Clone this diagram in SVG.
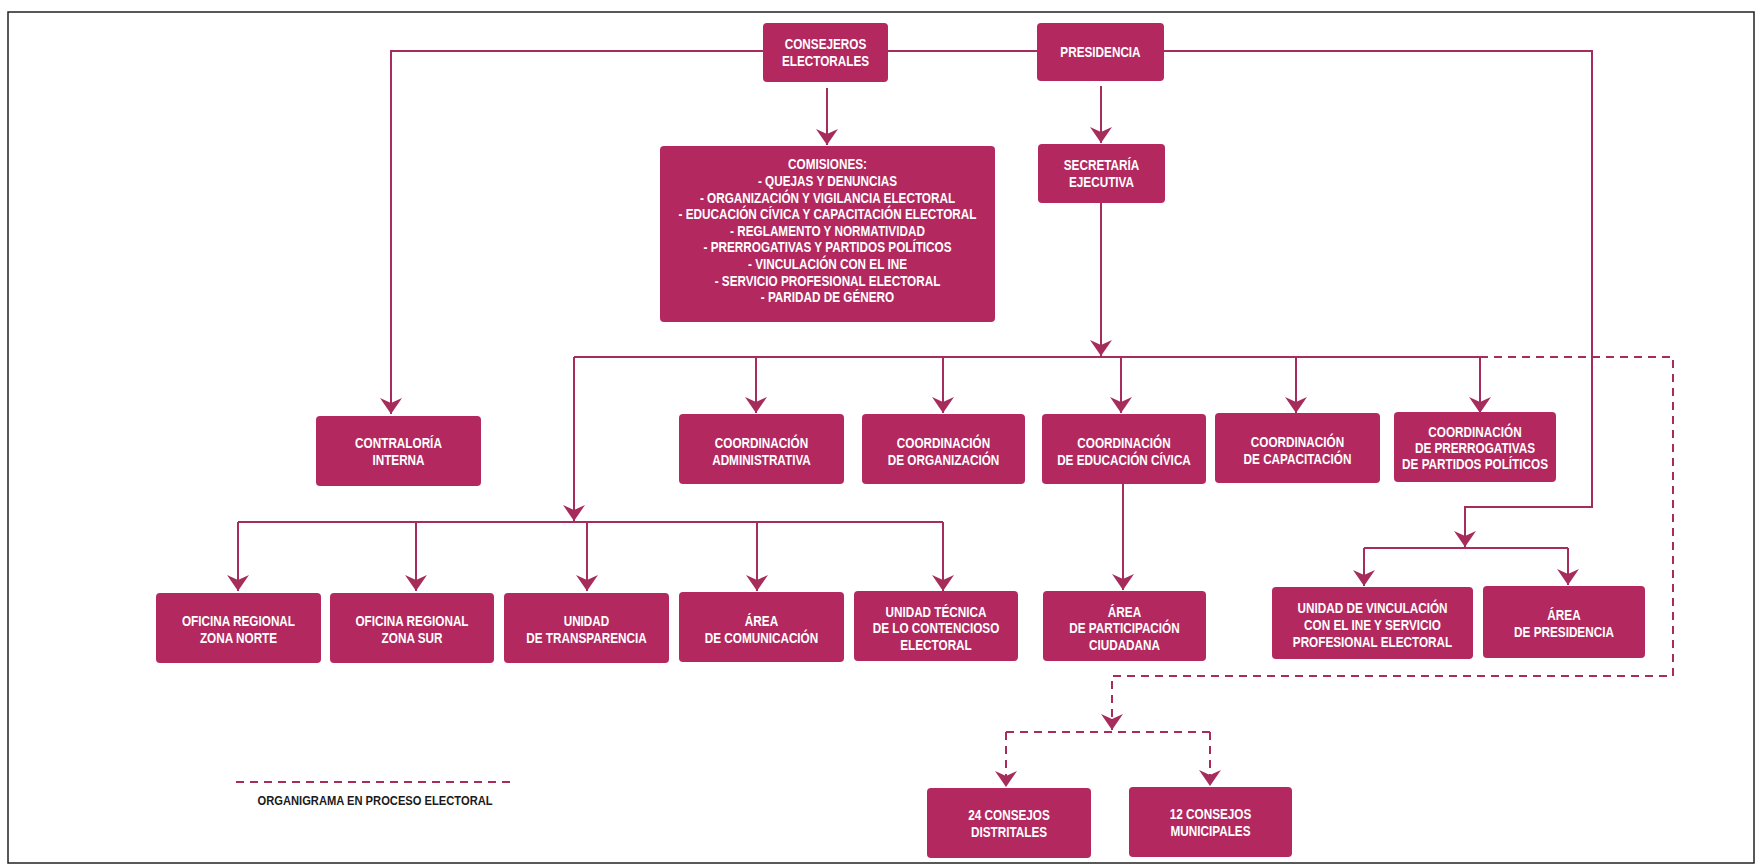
<svg xmlns="http://www.w3.org/2000/svg" width="1760" height="866" viewBox="0 0 1760 866">
<defs>
<style>
.box{fill:#b3285f;}
.t{font-family:'Liberation Sans',Arial,sans-serif;font-weight:bold;font-size:14px;fill:#ffffff;text-anchor:middle;transform-box:fill-box;transform-origin:center;transform:scaleX(0.84);}
.ln{fill:none;stroke:#a62c5c;stroke-width:2;}
.dash{stroke-dasharray:8 6;}
.leg{font-family:'Liberation Sans',Arial,sans-serif;font-weight:bold;font-size:13px;fill:#1a1a1a;text-anchor:middle;transform-box:fill-box;transform-origin:center;transform:scaleX(0.86);}
</style>
<marker id="ah" markerUnits="userSpaceOnUse" markerWidth="22" markerHeight="26" viewBox="-18 -13 19 26" refX="0" refY="0" orient="auto" overflow="visible">
<path d="M0,0 L-16,-11 L-11,0 L-16,11 Z" fill="#a62c5c"/>
</marker>
</defs>
<rect x="0" y="0" width="1760" height="866" fill="#ffffff"/>
<rect x="8" y="12" width="1746" height="851" fill="none" stroke="#222" stroke-width="1.5"/>

<g id="connectors">
<path class="ln" d="M763,51 H391 V414" marker-end="url(#ah)"/>
<path class="ln" d="M888,51 H1037"/>
<path class="ln" d="M1164,51 H1592 V507 H1465 V547" marker-end="url(#ah)"/>
<path class="ln" d="M827,88 V145" marker-end="url(#ah)"/>
<path class="ln" d="M1101,86 V143" marker-end="url(#ah)"/>
<path class="ln" d="M1101,203 V356" marker-end="url(#ah)"/>
<path class="ln" d="M574,357 H1480"/>
<path class="ln" d="M756,357 V413" marker-end="url(#ah)"/>
<path class="ln" d="M943,357 V413" marker-end="url(#ah)"/>
<path class="ln" d="M1121,357 V413" marker-end="url(#ah)"/>
<path class="ln" d="M1296,357 V413" marker-end="url(#ah)"/>
<path class="ln" d="M1480,357 V413" marker-end="url(#ah)"/>
<path class="ln" d="M574,357 V521" marker-end="url(#ah)"/>
<path class="ln" d="M238,522 H943"/>
<path class="ln" d="M238,522 V591" marker-end="url(#ah)"/>
<path class="ln" d="M416,522 V591" marker-end="url(#ah)"/>
<path class="ln" d="M587,522 V591" marker-end="url(#ah)"/>
<path class="ln" d="M757,522 V591" marker-end="url(#ah)"/>
<path class="ln" d="M943,522 V591" marker-end="url(#ah)"/>
<path class="ln" d="M1123,484 V590" marker-end="url(#ah)"/>
<path class="ln" d="M1364,548 H1568"/>
<path class="ln" d="M1364,548 V586" marker-end="url(#ah)"/>
<path class="ln" d="M1568,548 V585" marker-end="url(#ah)"/>
<path class="ln dash" d="M1480,357 H1673 V676 H1112 V730" marker-end="url(#ah)"/>
<path class="ln dash" d="M1006,732 H1210"/>
<path class="ln dash" d="M1006,732 V787" marker-end="url(#ah)"/>
<path class="ln dash" d="M1210,732 V786" marker-end="url(#ah)"/>
</g>

<g id="consejeros"><rect class="box" x="763" y="23" width="125" height="59" rx="4"/>
<text class="t" x="825.5" y="49">CONSEJEROS</text><text class="t" x="825.5" y="66">ELECTORALES</text></g>
<g id="presidencia"><rect class="box" x="1037" y="23" width="127" height="58" rx="4"/>
<text class="t" x="1100.5" y="57">PRESIDENCIA</text></g>
<g id="comisiones"><rect class="box" x="660" y="146" width="335" height="176" rx="4"/>
<text class="t" x="827.5" y="169">COMISIONES:</text>
<text class="t" x="827.5" y="186">- QUEJAS Y DENUNCIAS</text>
<text class="t" x="827.5" y="203">- ORGANIZACIÓN Y VIGILANCIA ELECTORAL</text>
<text class="t" x="827.5" y="219">- EDUCACIÓN CÍVICA Y CAPACITACIÓN ELECTORAL</text>
<text class="t" x="827.5" y="236">- REGLAMENTO Y NORMATIVIDAD</text>
<text class="t" x="827.5" y="252">- PRERROGATIVAS Y PARTIDOS POLÍTICOS</text>
<text class="t" x="827.5" y="269">- VINCULACIÓN CON EL INE</text>
<text class="t" x="827.5" y="286">- SERVICIO PROFESIONAL ELECTORAL</text>
<text class="t" x="827.5" y="302">- PARIDAD DE GÉNERO</text></g>
<g id="secretaria"><rect class="box" x="1038" y="144" width="127" height="59" rx="4"/>
<text class="t" x="1101.5" y="170">SECRETARÍA</text><text class="t" x="1101.5" y="187">EJECUTIVA</text></g>

<g id="contraloria"><rect class="box" x="316" y="416" width="165" height="70" rx="4"/>
<text class="t" x="398.5" y="448">CONTRALORÍA</text><text class="t" x="398.5" y="465">INTERNA</text></g>
<g id="coord-admin"><rect class="box" x="679" y="414" width="165" height="70" rx="4"/>
<text class="t" x="761.5" y="448">COORDINACIÓN</text><text class="t" x="761.5" y="465">ADMINISTRATIVA</text></g>
<g id="coord-org"><rect class="box" x="862" y="414" width="163" height="70" rx="4"/>
<text class="t" x="943.5" y="448">COORDINACIÓN</text><text class="t" x="943.5" y="465">DE ORGANIZACIÓN</text></g>
<g id="coord-educ"><rect class="box" x="1042" y="414" width="164" height="70" rx="4"/>
<text class="t" x="1124" y="448">COORDINACIÓN</text><text class="t" x="1124" y="465">DE EDUCACIÓN CÍVICA</text></g>
<g id="coord-cap"><rect class="box" x="1215" y="413" width="165" height="70" rx="4"/>
<text class="t" x="1297.5" y="447">COORDINACIÓN</text><text class="t" x="1297.5" y="464">DE CAPACITACIÓN</text></g>
<g id="coord-prerrog"><rect class="box" x="1394" y="412" width="162" height="70" rx="4"/>
<text class="t" x="1475" y="437">COORDINACIÓN</text><text class="t" x="1475" y="453">DE PRERROGATIVAS</text><text class="t" x="1475" y="469">DE PARTIDOS POLÍTICOS</text></g>

<g id="of-norte"><rect class="box" x="156" y="593" width="165" height="70" rx="4"/>
<text class="t" x="238.5" y="626">OFICINA REGIONAL</text><text class="t" x="238.5" y="643">ZONA NORTE</text></g>
<g id="of-sur"><rect class="box" x="330" y="593" width="164" height="70" rx="4"/>
<text class="t" x="412" y="626">OFICINA REGIONAL</text><text class="t" x="412" y="643">ZONA SUR</text></g>
<g id="transparencia"><rect class="box" x="504" y="593" width="165" height="70" rx="4"/>
<text class="t" x="586.5" y="626">UNIDAD</text><text class="t" x="586.5" y="643">DE TRANSPARENCIA</text></g>
<g id="comunicacion"><rect class="box" x="679" y="592" width="165" height="70" rx="4"/>
<text class="t" x="761.5" y="626">ÁREA</text><text class="t" x="761.5" y="643">DE COMUNICACIÓN</text></g>
<g id="contencioso"><rect class="box" x="854" y="591" width="164" height="70" rx="4"/>
<text class="t" x="936" y="617">UNIDAD TÉCNICA</text><text class="t" x="936" y="633">DE LO CONTENCIOSO</text><text class="t" x="936" y="650">ELECTORAL</text></g>
<g id="participacion"><rect class="box" x="1043" y="591" width="163" height="70" rx="4"/>
<text class="t" x="1124.5" y="617">ÁREA</text><text class="t" x="1124.5" y="633">DE PARTICIPACIÓN</text><text class="t" x="1124.5" y="650">CIUDADANA</text></g>
<g id="vinculacion"><rect class="box" x="1272" y="587" width="201" height="72" rx="4"/>
<text class="t" x="1372.5" y="613">UNIDAD DE VINCULACIÓN</text><text class="t" x="1372.5" y="630">CON EL INE Y SERVICIO</text><text class="t" x="1372.5" y="647">PROFESIONAL ELECTORAL</text></g>
<g id="area-presidencia"><rect class="box" x="1483" y="586" width="162" height="72" rx="4"/>
<text class="t" x="1564" y="620">ÁREA</text><text class="t" x="1564" y="637">DE PRESIDENCIA</text></g>

<g id="distritales"><rect class="box" x="927" y="788" width="164" height="70" rx="4"/>
<text class="t" x="1009" y="820">24 CONSEJOS</text><text class="t" x="1009" y="837">DISTRITALES</text></g>
<g id="municipales"><rect class="box" x="1129" y="787" width="163" height="70" rx="4"/>
<text class="t" x="1210.5" y="819">12 CONSEJOS</text><text class="t" x="1210.5" y="836">MUNICIPALES</text></g>

<g id="legend">
<path class="ln dash" d="M236,782 H512" stroke-width="1.5"/>
<text class="leg" x="375" y="805">ORGANIGRAMA EN PROCESO ELECTORAL</text>
</g>
</svg>
